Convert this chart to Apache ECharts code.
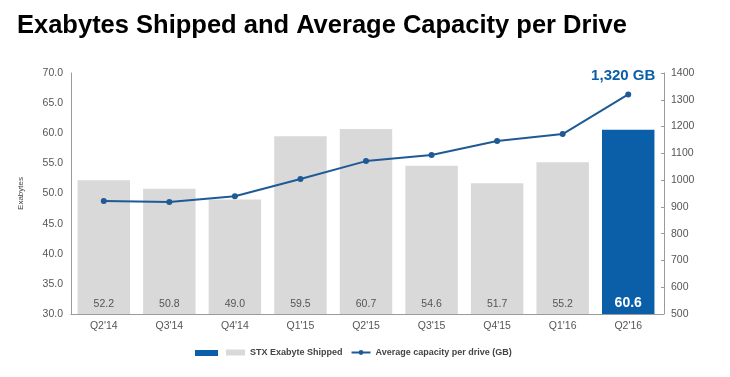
<!DOCTYPE html>
<html><head><meta charset="utf-8">
<script src="https://cdn.jsdelivr.net/npm/echarts@6/dist/echarts.min.js"></script>
<style>html,body{margin:0;padding:0;background:#fff}#c{width:730px;height:377px}</style>
</head><body><div id="c"></div>
<script>
const categories = ["Q2'14","Q3'14","Q4'14","Q1'15","Q2'15","Q3'15","Q4'15","Q1'16","Q2'16"];
const exabytes = [52.2, 50.8, 49.0, 59.5, 60.7, 54.6, 51.7, 55.2, 60.6];
const avgCapacity = [922, 918, 940, 1004, 1071, 1094, 1146, 1172, 1320];
const leftTicks = [30, 70, 5];
const rightTicks = [500, 1400, 100];

const chart = echarts.init(document.getElementById('c'));
const gray = '#d9d9d9', blue = '#0b5fa8', lineBlue = '#1e5a96';
const lastIdx = exabytes.length - 1;
chart.setOption({
  animation: false,
  textStyle: {fontFamily: 'Liberation Sans, Arial, sans-serif'},
  title: {text: 'Exabytes Shipped and Average Capacity per Drive', left: 12, top: 8,
    textStyle: {fontSize: 25.5, fontWeight: 'bold', color: '#000', fontFamily: 'Liberation Sans, Arial, sans-serif'}},
  grid: {left: 71, right: 69, top: 73, bottom: 63},
  legend: {bottom: 15, left: 221, itemGap: 8, itemWidth: 19, itemHeight: 6,
    textStyle: {fontSize: 9, color: '#444', fontWeight: 'bold'},
    data: [{name: 'STX Exabyte Shipped', icon: 'rect'}, {name: 'Average capacity per drive (GB)'}]},
  graphic: [{type: 'rect', left: 195, bottom: 21, shape: {width: 23, height: 6}, style: {fill: blue}}],
  xAxis: {type: 'category', data: categories,
    axisLine: {lineStyle: {color: '#9a9a9a'}}, axisTick: {show: false},
    axisLabel: {color: '#555', fontSize: 10.5, margin: 7}},
  yAxis: [
    {type: 'value', min: leftTicks[0], max: leftTicks[1], interval: leftTicks[2], name: 'Exabytes',
     nameLocation: 'middle', nameGap: 46, nameTextStyle: {fontSize: 8, color: '#444'},
     axisLine: {show: true, lineStyle: {color: '#9a9a9a'}}, axisTick: {show: false}, splitLine: {show: false},
     axisLabel: {color: '#555', fontSize: 10.5, formatter: v => v.toFixed(1), margin: 8}},
    {type: 'value', min: rightTicks[0], max: rightTicks[1], interval: rightTicks[2], position: 'right', offset: 3,
     axisLine: {show: true, lineStyle: {color: '#9a9a9a'}}, axisTick: {show: true, inside: true, length: 3, lineStyle: {color: '#9a9a9a'}},
     splitLine: {show: false}, axisLabel: {color: '#555', fontSize: 10.5, margin: 7, formatter: v => String(v)}}
  ],
  series: [
    {name: 'STX Exabyte Shipped', type: 'bar', yAxisIndex: 0, barCategoryGap: '20%', itemStyle: {color: gray},
     data: exabytes.map((v, i) => i === lastIdx ? {value: v, itemStyle: {color: blue},
        label: {color: '#fff', fontSize: 14, fontWeight: 'bold'}} : v),
     label: {show: true, position: 'insideBottom', distance: 4, color: '#555', fontSize: 10.5, formatter: p => p.value.toFixed(1)}},
    {name: 'Average capacity per drive (GB)', type: 'line', yAxisIndex: 1, data: avgCapacity.map((v, i) => i === lastIdx ? {value: v,
        label: {show: true, position: 'top', distance: 8, offset: [-5, 0], color: '#0b5fa8', fontSize: 15, fontWeight: 'bold',
          formatter: p => p.value.toLocaleString('en-US') + ' GB'}} : v),
     symbol: 'circle', symbolSize: 6, color: lineBlue, lineStyle: {width: 2, color: lineBlue}, itemStyle: {color: lineBlue}}
  ]
});
</script></body></html>
